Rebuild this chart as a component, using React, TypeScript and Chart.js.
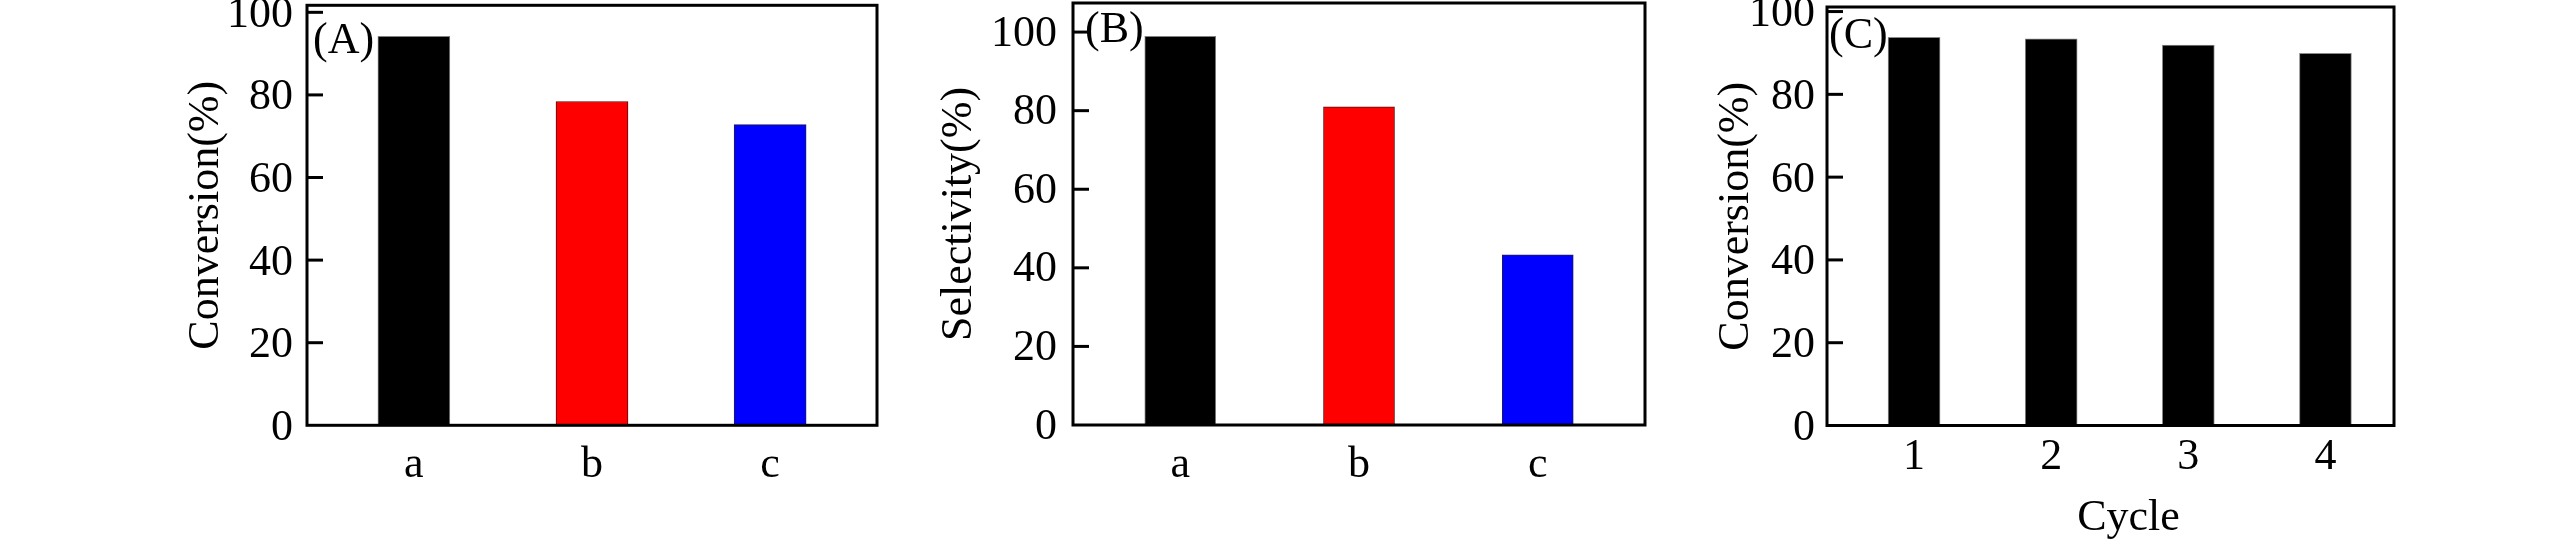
import React, { useEffect, useRef } from "react";
import { Chart, registerables } from "chart.js";

Chart.register(...registerables);

const FONT = '"Liberation Serif", "Times New Roman", serif';

// ---- data ----
const SAMPLE_LABELS = ["a", "b", "c"];
const CONVERSION_A = [94.2, 78.4, 72.8];
const SELECTIVITY_B = [98.9, 81.0, 43.3];
const CYCLE_LABELS = ["1", "2", "3", "4"];
const CONVERSION_C = [93.8, 93.4, 91.9, 89.9];
const Y_TICKS = [0, 20, 40, 60, 80, 100];

const SAMPLE_COLORS = ["#000000", "#ff0000", "#0000ff"];
const SAMPLE_BORDERS = ["#808080", "#5a0a0a", "#1c1c55"];
const CYCLE_COLORS = ["#000000", "#000000", "#000000", "#000000"];
const CYCLE_BORDERS = ["#8a8a8a", "#8a8a8a", "#8a8a8a", "#8a8a8a"];

type Panel = {
  key: string;
  labels: string[];
  values: number[];
  colors: string[];
  borders: string[];
  yTitle: string;
  xTitle?: string;
  tag: string;
  left: number;
  width: number;
  padTop: number;
  padBottom: number;
  padRight: number;
  yWidth: number;
  xHeight: number;
  yMax: number;
  xMin: number;
  xMax: number;
  bar: number;
  yTickPad: number;
  yLabelShift: number;
  xTickPad: number;
  tagDx: number;
  tagDy: number;
  xTitleDx?: number;
  xTitleDy?: number;
};

const PANELS: Panel[] = [
  {
    key: "A",
    labels: SAMPLE_LABELS,
    values: CONVERSION_A,
    colors: SAMPLE_COLORS,
    borders: SAMPLE_BORDERS,
    yTitle: "Conversion(%)",
    tag: "(A)",
    left: 180,
    width: 707,
    padTop: 5.3,
    padBottom: 0,
    padRight: 10,
    yWidth: 127,
    xHeight: 120.7,
    yMax: 101.7,
    xMin: 0.4,
    xMax: 3.6,
    bar: 72,
    yTickPad: 14,
    yLabelShift: 3,
    xTickPad: 14,
    tagDx: 6,
    tagDy: 36,
  },
  {
    key: "B",
    labels: SAMPLE_LABELS,
    values: SELECTIVITY_B,
    colors: SAMPLE_COLORS,
    borders: SAMPLE_BORDERS,
    yTitle: "Selectivity(%)",
    tag: "(B)",
    left: 933,
    width: 722,
    padTop: 3,
    padBottom: 0,
    padRight: 10,
    yWidth: 140,
    xHeight: 121,
    yMax: 107.4,
    xMin: 0.4,
    xMax: 3.6,
    bar: 71,
    yTickPad: 16,
    yLabelShift: 2,
    xTickPad: 14,
    tagDx: 12,
    tagDy: 27.5,
  },
  {
    key: "C",
    labels: CYCLE_LABELS,
    values: CONVERSION_C,
    colors: CYCLE_COLORS,
    borders: CYCLE_BORDERS,
    yTitle: "Conversion(%)",
    xTitle: "Cycle",
    tag: "(C)",
    left: 1710,
    width: 694,
    padTop: 7,
    padBottom: 1.5,
    padRight: 10,
    yWidth: 117,
    xHeight: 119,
    yMax: 101.1,
    xMin: 0.365,
    xMax: 4.5,
    bar: 52,
    yTickPad: 12,
    yLabelShift: 3,
    xTickPad: 6,
    tagDx: 2,
    tagDy: 29,
    xTitleDx: 18,
    xTitleDy: 92.5,
  },
];

const framePlugin = {
  id: "frame",
  afterDraw(chart: any, _args: any, opts: any) {
    const { ctx, chartArea } = chart;
    const { left, top, right, bottom } = chartArea;
    const y = chart.scales.y;
    ctx.save();
    ctx.strokeStyle = "#000";
    ctx.lineWidth = 3;
    ctx.lineCap = "butt";
    // inward tick marks
    y.ticks.forEach((t: any) => {
      if (t.value === 0) return;
      const py = y.getPixelForValue(t.value);
      ctx.beginPath();
      ctx.moveTo(left, py);
      ctx.lineTo(left + 16, py);
      ctx.stroke();
    });
    // frame
    ctx.strokeRect(left, top, right - left, bottom - top);
    // panel tag
    ctx.fillStyle = "#000";
    ctx.font = `44px ${FONT}`;
    ctx.textBaseline = "middle";
    ctx.textAlign = "left";
    ctx.fillText(opts.tag, left + opts.tagDx, top + opts.tagDy);
    // x title
    if (opts.xTitle) {
      ctx.textAlign = "center";
      ctx.fillText(opts.xTitle, (left + right) / 2 + opts.xTitleDx, bottom + opts.xTitleDy);
    }
    ctx.restore();
  },
};

function PanelChart({ p }: { p: Panel }) {
  const ref = useRef<HTMLCanvasElement | null>(null);
  useEffect(() => {
    if (!ref.current) return;
    const font = { family: FONT, size: 44, lineHeight: 1.2 };
    const chart = new Chart(ref.current, {
      type: "bar",
      data: {
        datasets: [
          {
            data: p.values.map((v, i) => ({ x: i + 1, y: v })),
            backgroundColor: p.colors,
            borderColor: p.borders,
            borderWidth: 1,
            barThickness: p.bar,
          } as any,
        ],
      },
      options: {
        responsive: false,
        animation: false,
        events: [],
        layout: {
          padding: { top: p.padTop, bottom: p.padBottom, left: 0, right: p.padRight },
        },
        plugins: {
          legend: { display: false },
          tooltip: { enabled: false },
          title: { display: false },
          frame: {
            tag: p.tag,
            tagDx: p.tagDx,
            tagDy: p.tagDy,
            xTitle: p.xTitle,
            xTitleDx: p.xTitleDx ?? 0,
            xTitleDy: p.xTitleDy ?? 0,
          },
        } as any,
        scales: {
          x: {
            type: "linear",
            min: p.xMin,
            max: p.xMax,
            offset: false,
            grid: { display: false, drawTicks: false },
            border: { display: false },
            afterBuildTicks: (scale: any) => {
              scale.ticks = p.labels.map((_, i) => ({ value: i + 1 }));
            },
            afterFit: (scale: any) => {
              scale.height = p.xHeight;
              scale.paddingLeft = 0;
              scale.paddingRight = 0;
            },
            ticks: {
              autoSkip: false,
              maxRotation: 0,
              minRotation: 0,
              includeBounds: false,
              padding: p.xTickPad,
              color: "#000",
              font,
              callback: (v: any) => p.labels[Math.round(Number(v)) - 1] ?? "",
            },
          },
          y: {
            type: "linear",
            min: 0,
            max: p.yMax,
            grid: { display: false, drawTicks: false },
            border: { display: false },
            afterBuildTicks: (scale: any) => {
              scale.ticks = Y_TICKS.map((v) => ({ value: v }));
            },
            afterFit: (scale: any) => {
              scale.width = p.yWidth;
              scale.paddingTop = 0;
              scale.paddingBottom = 0;
            },
            title: {
              display: true,
              text: p.yTitle,
              color: "#000",
              font,
              padding: 0,
            },
            ticks: {
              includeBounds: false,
              autoSkip: false,
              padding: p.yTickPad,
              labelOffset: p.yLabelShift,
              color: "#000",
              font,
            },
          },
        },
      } as any,
      plugins: [framePlugin as any],
    });
    return () => chart.destroy();
  }, [p]);
  return (
    <div style={{ position: "absolute", left: p.left, top: 0, width: p.width, height: 546 }}>
      <canvas ref={ref} width={p.width} height={546} style={{ display: "block" }} />
    </div>
  );
}

export default function App() {
  return (
    <div
      style={{
        position: "absolute",
        left: 0,
        top: 0,
        width: 2567,
        height: 546,
        background: "#ffffff",
        overflow: "hidden",
      }}
    >
      {PANELS.map((p) => (
        <PanelChart key={p.key} p={p} />
      ))}
    </div>
  );
}
